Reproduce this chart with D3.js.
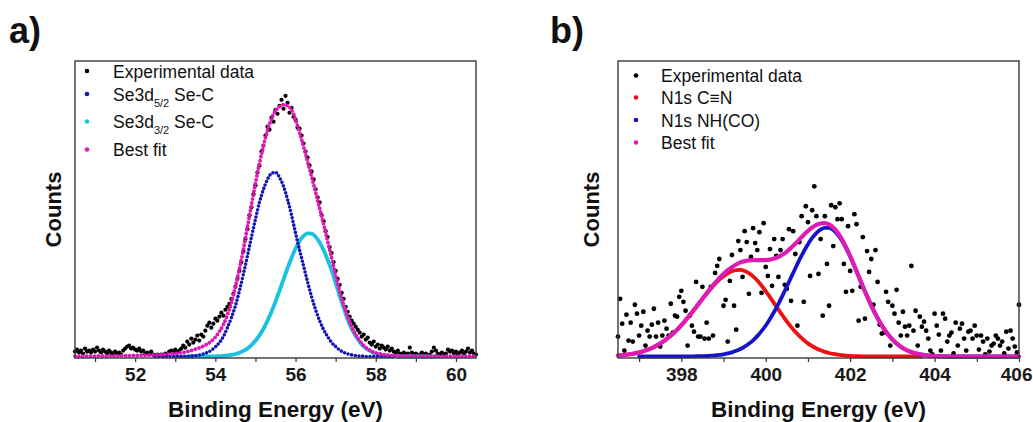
<!DOCTYPE html>
<html>
<head>
<meta charset="utf-8">
<script src="https://cdn.jsdelivr.net/npm/d3@7"></script>
<style>
  body { margin: 0; background: #fff; }
  svg text { font-family: "Liberation Sans", Arial, sans-serif; }
</style>
</head>
<body>
<div id="chart"></div>
<script>
// ---------- panel a) Se3d ----------
// experimental points, 50.50 -> 60.50 eV every 0.05 eV (counts, a.u.)
const expStartA = 50.5, expStepA = 0.05;
const expCountsA = [
  5, 7, 4, 6, 3, 8, 5, 6, 4, 7,
  5, 9, 6, 4, 7, 5, 3, 6, 4, 2,
  5, 3, 4, 2, 6, 8, 10, 11, 8, 9,
  7, 6, 8, 5, 6, 3, 4, 2, 5, 2,
  1, 2, 1, 2, 1, 3, 2, 5, 6, 4,
  7, 5, 6, 8, 11, 9, 15, 12, 18, 14,
  17, 21, 16, 22, 20, 26, 31, 34, 29, 33,
  38, 36, 40, 44, 41, 47, 50, 53, 58, 63,
  70, 78, 86, 95, 106, 118, 128, 142, 150, 163,
  172, 185, 192, 206, 212, 222, 231, 228, 240, 236,
  248, 244, 252, 258, 249, 262, 255, 245, 250, 241,
  238, 230, 229, 222, 214, 206, 200, 192, 186, 178,
  168, 160, 155, 142, 136, 126, 120, 110, 104, 95,
  86, 78, 72, 64, 58, 50, 45, 40, 36, 33,
  30, 27, 24, 20, 22, 17, 19, 14, 12, 15,
  10, 12, 8, 11, 9, 7, 10, 6, 8, 5,
  4, 6, 3, 2, 4, 2, 3, 9, 4, 2,
  3, 1, 2, 4, 2, 3, 1, 2, 5, 9,
  6, 3, 2, 4, 2, 3, 7, 5, 6, 3,
  5, 2, 4, 6, 3, 5, 8, 4, 6, 3,
  2
];
// fitted components, 50.5 -> 60.5 eV every 0.1 eV (null = not drawn)
const fitStartA = 50.5, fitStepA = 0.1;
const se52A = [
  null, null, null, null, null, null, null, null, null, null,
  null, null, null, null, null, null, null, null, null, null,
  0, 0, 0, 0, 0, 0, 0, 0, 0.2, 0.5,
  0.9, 1.5, 2.5, 4.0, 6.3, 9.6, 14, 20, 29, 39,
  51, 66, 83, 101, 120, 138, 155, 168, 178, 184,
  185, 180, 171, 158, 142, 124, 107, 91, 75, 60,
  47, 36, 27, 20, 14, 10, 6.5, 4.2, 2.6, 1.6,
  1.0, 0.5, 0.3, 0, 0, 0, 0, 0, 0, 0,
  0, null, null, null, null, null, null, null, null, null,
  null, null, null, null, null, null, null, null, null, null,
  null
];
const se32A = [
  null, null, null, null, null, null, null, null, null, null,
  null, null, null, null, null, null, null, null, null, null,
  null, null, null, null, null, 0, 0, 0, 0, 0,
  0.1, 0.1, 0.1, 0.1, 0.2, 0.2, 0.4, 0.6, 1.0, 1.6,
  2.5, 3.8, 5.7, 8.1, 11.5, 15.8, 21.2, 27.9, 35.8, 45.0,
  55.2, 66.1, 77.5, 88.7, 99.3, 108.6, 116.1, 121.2, 123.8, 123.5,
  120.4, 114.7, 106.9, 97.3, 86.5, 74, 61, 49, 37, 28,
  20.5, 14.5, 10, 7, 4.6, 3, 2, 1.3, 0.8, 0.5,
  0.3, 0.2, 0.1, 0.1, 0, 0, 0, 0, 0, 0,
  0, null, null, null, null, null, null, null, null, null,
  null
];
const bestFitA = [
  0.3, 0.3, 0.3, 0.4, 0.4, 0.4, 0.5, 0.5, 0.5, 0.6,
  0.6, 0.7, 0.7, 0.8, 0.9, 1.0, 1.1, 1.2, 1.3, 1.5,
  1.6, 1.8, 2.0, 2.3, 2.6, 3.0, 3.5, 4.2, 5.0, 6.0,
  7.2, 8.6, 10.3, 12.5, 15.5, 19.5, 25, 32, 42, 54,
  70, 88, 108, 130, 152, 174, 194, 212, 227, 239,
  247, 251, 253, 252, 248, 238, 225, 211, 196, 181,
  165, 149, 133, 116, 99, 82, 66, 52, 40, 30,
  22, 16, 11, 7.5, 5.2, 3.6, 2.6, 1.9, 1.4, 1.1,
  0.9, 0.7, 0.6, 0.5, 0.5, 0.4, 0.3, 0.3, 0.3, 0.3,
  0.3, 0.3, 0.3, 0.3, 0.3, 0.3, 0.3, 0.3, 0.3, 0.3,
  0.3
];
const ticksA = [52, 54, 56, 58, 60];
const minorTicksA = [51, 53, 55, 57, 59];

// ---------- panel b) N1s ----------
// experimental points, 396.50 -> 406.00 eV every 0.05 eV
const expStartB = 396.5, expStepB = 0.05;
const expCountsB = [
  20, 58, 33, 6, 42, 16, 34, 15, 52, 43, 21,
  31, 45, 11, 26, 20, 32, 48, 20, 34, 10,
  21, 36, 28, 21, 53, 24, 41, 40, 60, 66,
  55, 46, 11, 41, 31, 25, 75, 20, 20, 70,
  18, 34, 18, 70, 21, 84, 91, 98, 80, 51,
  57, 15, 76, 102, 51, 27, 116, 107, 80, 126,
  115, 63, 100, 129, 114, 107, 125, 64, 134, 90,
  81, 108, 71, 118, 101, 80, 107, 118, 72, 68,
  128, 56, 126, 103, 31, 115, 141, 55, 151, 135,
  81, 147, 171, 141, 83,
  118, 41, 141, 93, 51, 152, 111, 150, 138, 154,
  138, 93, 65, 131, 86, 66, 143, 133, 36, 70,
  120, 38, 106, 85, 98, 52, 107, 75, 32, 23,
  24, 65, 55, 11, 51, 43, 67, 34, 21, 45,
  30, 21, 31, 91, 26, 46, 11, 40, 30, 35,
  26, 18, 6, 2, 43, 31, 22, 6, 43, 38,
  15, 21, 24, 3, 34, 11, 28, 33, 18, 6,
  25, 26, 18, 31, 21, 7, 21, 15, 2, 18,
  5, 11, 13, 21, 18, 11, 15, 3, 25, 8,
  26, 18, 10, 4, 52
];
// fitted components, 396.5 -> 406.0 eV every 0.1 eV
const fitStartB = 396.5, fitStepB = 0.1;
const cnB = [
  1.0, 1.4, 1.8, 2.4, 3.2, 4.1, 5.3, 6.8, 8.5, 10.6,
  13.0, 15.9, 19.2, 22.8, 26.9, 31.4, 36.3, 41.4, 46.7, 52.2,
  57.7, 63.1, 68.2, 72.9, 77.2, 80.8, 83.6, 85.6, 86.8, 87.0,
  86.0, 83.8, 80.5, 76.3, 71.3, 65.7, 59.6, 53.4, 47.1, 41.0,
  35.2, 29.8, 24.8, 20.4, 16.6, 13.2, 10.4, 8.1, 6.2, 4.7,
  3.5, 2.6, 1.9, 1.3, 0.9, 0.6, 0.4, 0.3, 0.2, 0.1,
  0.1, 0.1, 0.1, 0.1, 0.1, 0.1, 0.1, 0.1, 0.1, 0.1,
  0.1, 0.1, 0.1, null, null, null, null, null, null, null,
  null, null, null, null, null, null, null, null, null, null,
  null, null, null, null, null, null
];
const nhcoB = [
  null, null, null, null, null, 0, 0, 0, 0, 0,
  0, 0, 0, 0, 0, 0, 0.1, 0.1, 0.2, 0.3,
  0.4, 0.5, 0.8, 1.1, 1.6, 2.2, 3.1, 4.2, 5.7, 7.6,
  9.9, 12.8, 16.3, 20.5, 25.5, 31.2, 37.8, 45.0, 53.0, 61.5,
  70.3, 79.5, 88.5, 97.3, 105.5, 112.9, 119.2, 124.1, 127.5, 129.3,
  129.2, 127.1, 122.9, 116.8, 109.2, 100.4, 90.7, 80.6, 70.4, 60.5,
  51.1, 42.5, 34.7, 27.8, 22.0, 17.1, 13.0, 9.8, 7.2, 5.2,
  3.7, 2.6, 1.8, 1.2, 0.8, 0.5, 0.3, 0.2, 0.1, 0,
  0, 0, 0, 0, 0, 0, 0, 0, 0, 0,
  0, 0, 0, 0, 0, 0
];
const bestFitB = [
  1.0, 1.4, 1.8, 2.4, 3.2, 4.1, 5.3, 6.8, 8.5, 10.6,
  13.0, 15.9, 19.2, 22.8, 26.9, 31.4, 36.4, 41.5, 46.9, 52.5,
  58.1, 63.6, 69.0, 74.0, 78.8, 83.0, 86.7, 89.8, 92.5, 94.6,
  95.9, 96.6, 96.8, 96.8, 96.8, 96.9, 97.4, 98.4, 100.1, 102.5,
  105.5, 109.3, 113.3, 117.7, 122.1, 126.1, 129.6, 132.2, 133.7, 134.0,
  132.7, 129.7, 124.8, 118.1, 110.1, 101.0, 91.1, 80.9, 70.6, 60.6,
  51.2, 42.6, 34.8, 27.9, 22.1, 17.2, 13.1, 9.9, 7.3, 5.3,
  3.8, 2.7, 1.9, 1.2, 0.8, 0.5, 0.3, 0.2, 0.1, 0,
  0, 0, 0, 0, 0, 0, 0, 0, 0, 0,
  0, 0, 0, 0, 0, 0
];
const ticksB = [398, 400, 402, 404, 406];
const minorTicksB = [397, 399, 401, 403, 405];

const countsMax = 297;
const pageWidth = 1033;

const withEnergy = (vals, start, step) => vals.map((v, i) => ({e: start + i * step, v: v}));

const svg = d3.select("#chart").append("svg")
    .attr("width", pageWidth)
    .attr("height", 422);

function drawPanel(cfg) {
    const x = d3.scaleLinear().domain(cfg.domain).range([cfg.left, cfg.right]);
    const y = d3.scaleLinear().domain([0, countsMax]).range([cfg.bottom - 1.5, cfg.top]);
    const g = svg.append("g");

    // axis ticks (labels bold, ticks outward)
    const xAxis = g.append("g")
        .attr("transform", "translate(0," + cfg.bottom + ")")
        .call(d3.axisBottom(x).tickValues(cfg.ticks).tickSize(4).tickPadding(6).tickFormat(d3.format("d")));
    xAxis.select(".domain").remove();
    xAxis.selectAll("line").attr("stroke", "#333").attr("stroke-width", 1.2);
    xAxis.selectAll("text")
        .attr("font-family", "Liberation Sans, Arial, sans-serif")
        .attr("font-size", 19)
        .attr("font-weight", "bold")
        .attr("fill", "#1a1a1a");
    // a label on the page edge is pulled back inside the page
    xAxis.selectAll(".tick text")
        .filter(d => x(d) + 17 > pageWidth)
        .attr("text-anchor", "end")
        .attr("x", d => pageWidth - 1 - x(d));
    const minor = g.append("g")
        .attr("transform", "translate(0," + cfg.bottom + ")")
        .call(d3.axisBottom(x).tickValues(cfg.minorTicks).tickSize(4).tickFormat(""));
    minor.select(".domain").remove();
    minor.selectAll("line").attr("stroke", "#333").attr("stroke-width", 1.2);

    const plot = g.append("g");

    // experimental data
    plot.selectAll(".exp")
        .data(withEnergy(cfg.exp, cfg.expStart, cfg.expStep))
        .join("circle")
        .attr("class", "exp")
        .attr("cx", d => x(d.e))
        .attr("cy", d => y(d.v))
        .attr("r", cfg.expR)
        .attr("fill", "#000");

    const line = d3.line()
        .defined(d => d.v !== null)
        .x(d => x(d.e))
        .y(d => y(d.v))
        .curve(d3.curveMonotoneX);

    cfg.fits.forEach(f => {
        const p = plot.append("path")
            .attr("d", line(withEnergy(f.values, cfg.fitStart, cfg.fitStep)))
            .attr("fill", "none")
            .attr("stroke", f.color)
            .attr("stroke-width", f.width)
            .attr("stroke-linecap", "round")
            .attr("stroke-linejoin", "round");
        if (f.beads) p.attr("stroke-dasharray", "0 " + f.beads);
    });

    // frame
    g.append("rect")
        .attr("x", cfg.left).attr("y", cfg.top)
        .attr("width", cfg.right - cfg.left).attr("height", cfg.bottom - cfg.top)
        .attr("fill", "none").attr("stroke", "#3a3a3a").attr("stroke-width", 1.4);

    // legend
    const leg = g.append("g");
    cfg.legend.forEach((item, i) => {
        const cy = cfg.legendY[i];
        leg.append("circle")
            .attr("cx", cfg.legendDotX).attr("cy", cy).attr("r", 2.3)
            .attr("fill", item.color);
        const t = leg.append("text")
            .attr("x", cfg.legendTextX).attr("y", cy + 6.5)
            .attr("font-size", 17.5).attr("fill", "#111");
        if (item.sub) {
            t.append("tspan").text(item.label);
            t.append("tspan").attr("font-size", 11).attr("dy", 6).text(item.sub);
            t.append("tspan").attr("dy", -6).text(" " + item.after);
        } else {
            t.text(item.label);
        }
    });

    // axis titles and panel letter
    g.append("text")
        .attr("x", (cfg.left + cfg.right) / 2).attr("y", 417)
        .attr("text-anchor", "middle")
        .attr("font-size", 22.5).attr("font-weight", "bold").attr("fill", "#111")
        .text("Binding Energy (eV)");
    g.append("text")
        .attr("transform", "translate(" + cfg.countsX + "," + ((cfg.top + cfg.bottom) / 2) + ") rotate(-90)")
        .attr("text-anchor", "middle")
        .attr("font-size", 22).attr("font-weight", "bold").attr("fill", "#111")
        .text("Counts");
    g.append("text")
        .attr("x", cfg.letterX).attr("y", 43)
        .attr("font-size", 36).attr("font-weight", "bold").attr("fill", "#111")
        .text(cfg.letter);
}

drawPanel({
    left: 75, right: 476, top: 61, bottom: 358,
    domain: [50.5, 60.5],
    ticks: ticksA, minorTicks: minorTicksA,
    exp: expCountsA, expStart: expStartA, expStep: expStepA, expR: 2.1,
    fitStart: fitStartA, fitStep: fitStepA,
    fits: [
        {values: se32A, color: "#17c3df", width: 3.8},
        {values: se52A, color: "#1414b4", width: 3.6, beads: 3.7},
        {values: bestFitA, color: "#e017b2", width: 3.9, beads: 3.9}
    ],
    legend: [
        {label: "Experimental data", color: "#000"},
        {label: "Se3d", sub: "5/2", after: "Se-C", color: "#1414b4"},
        {label: "Se3d", sub: "3/2", after: "Se-C", color: "#17c3df"},
        {label: "Best fit", color: "#e017b2"}
    ],
    legendY: [71, 94, 121.5, 149.5],
    legendDotX: 87, legendTextX: 113,
    countsX: 61, letter: "a)", letterX: 9
});

drawPanel({
    left: 618, right: 1019, top: 61, bottom: 358,
    domain: [396.5, 406],
    ticks: ticksB, minorTicks: minorTicksB,
    exp: expCountsB, expStart: expStartB, expStep: expStepB, expR: 2.4,
    fitStart: fitStartB, fitStep: fitStepB,
    fits: [
        {values: cnB, color: "#ee1111", width: 3.8},
        {values: nhcoB, color: "#1414c8", width: 3.8},
        {values: bestFitB, color: "#e01ab4", width: 4.2}
    ],
    legend: [
        {label: "Experimental data", color: "#000"},
        {label: "N1s C\u2261N", color: "#ee1111"},
        {label: "N1s NH(CO)", color: "#1414c8"},
        {label: "Best fit", color: "#e01ab4"}
    ],
    legendY: [75.5, 97.5, 120, 142.5],
    legendDotX: 636, legendTextX: 661,
    countsX: 599, letter: "b)", letterX: 550
});
</script>
</body>
</html>
